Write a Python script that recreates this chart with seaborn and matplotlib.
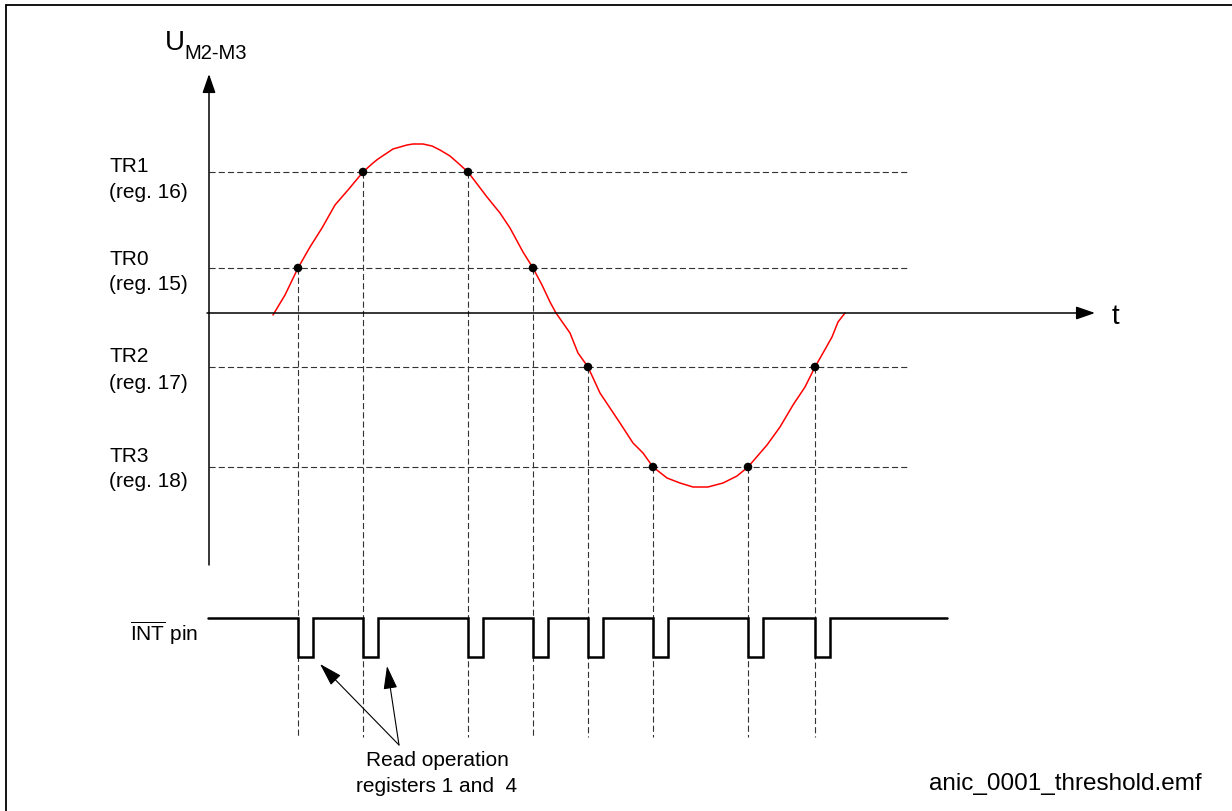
import numpy as np
import pandas as pd
import matplotlib
matplotlib.use("Agg")
import matplotlib.pyplot as plt
from matplotlib.transforms import Affine2D
import seaborn as sns

# ---- signal data (t and U in drawing units, origin at the axis crossing) ----
curve_t = [64, 76, 89, 101, 113, 126, 139, 154, 164, 169, 178, 184, 191, 198,
           204, 214, 223, 231, 241, 249, 259, 278, 291, 301, 314, 324, 333,
           341, 347, 361, 369, 379, 391, 401, 411, 424, 434, 444, 458, 471,
           484, 499, 514, 528, 539, 558, 571, 584, 596, 606, 614, 623, 629, 636]
curve_u = [-2, 18, 45, 66, 85, 108, 123, 141, 150, 154, 160, 164, 166, 168,
           169, 169, 167, 163, 157, 150, 141, 116, 100, 85, 61, 45, 28,
           11, 0, -20, -40, -54, -80, -95, -110, -130, -140, -154, -165, -170,
           -174, -174, -170, -163, -154, -132, -114, -92, -74, -54, -40, -24, -9, 0]

threshold_names = ["TR1", "TR0", "TR2", "TR3"]
threshold_regs = ["(reg. 16)", "(reg. 15)", "(reg. 17)", "(reg. 18)"]
threshold_u = [141, 45, -54, -154]

# crossing instants and the threshold each one hits
cross_t = [89, 154, 259, 324, 379, 444, 539, 606]
cross_level = ["TR0", "TR1", "TR1", "TR0", "TR2", "TR3", "TR3", "TR2"]

# INT pin: low pulse after each crossing
pulse_width = 15
int_high, int_low = -305, -344
int_start, int_end = -1, 738

W, H = 1232, 811
OX, OY = 209, 313          # axis origin in pixels

sns.set_theme(style="white")
plt.rcParams["font.family"] = ["Liberation Sans", "DejaVu Sans"]
plt.rcParams["text.color"] = "black"
plt.rcParams["mathtext.fontset"] = "custom"
plt.rcParams["mathtext.rm"] = "Liberation Sans"
plt.rcParams["mathtext.it"] = "Liberation Sans:italic"

fig = plt.figure(figsize=(W / 100, H / 100), dpi=100)
ax = fig.add_axes([0, 0, 1, 1])
ax.set_xlim(-OX, W - OX)
ax.set_ylim(OY - H, OY)
ax.axis("off")

# pixel transform (top-left origin) for layout items
px = Affine2D().scale(1 / W, -1 / H).translate(0, 1) + fig.transFigure

# outer frame (top and left edges)
ax.plot([6, W], [5, 5], color="black", lw=1.3, transform=px, clip_on=False)
ax.plot([6, 6], [5, H], color="black", lw=1.3, transform=px, clip_on=False)

level_of = dict(zip(threshold_names, threshold_u))
cross_u = [level_of[n] for n in cross_level]

dash_kw = dict(color="#333333", lw=0.8, dashes=(5.5, 2.8))

# threshold lines
for u in threshold_u:
    ax.plot([0, 698], [u, u], **dash_kw)

# drop lines from crossings down through the INT trace
for t, u in zip(cross_t, cross_u):
    ax.plot([t, t], [u, -424], **dash_kw)

# axes with arrow heads
arrow_kw = dict(arrowstyle="-|>,head_length=1.15,head_width=0.4",
                mutation_scale=10, lw=1.1, color="black",
                shrinkA=0, shrinkB=0)
ax.annotate("", xy=(0, 239), xytext=(0, -252), arrowprops=arrow_kw)
ax.annotate("", xy=(886, 0), xytext=(-2, 0), arrowprops=arrow_kw)

# signal
df = pd.DataFrame({"t": curve_t, "U": curve_u})
sns.lineplot(data=df, x="t", y="U", sort=False, estimator=None,
             color="red", lw=1.1, ax=ax, solid_joinstyle="round")
sns.scatterplot(x=cross_t, y=cross_u, s=38, color="black",
                edgecolor="none", ax=ax, zorder=5)

# INT pin trace
it = [int_start]
iu = [int_high]
for t in cross_t:
    it += [t, t, t + pulse_width, t + pulse_width]
    iu += [int_high, int_low, int_low, int_high]
it.append(int_end)
iu.append(int_high)
ax.plot(it, iu, color="black", lw=1.8, solid_joinstyle="miter")

# text
fs = 15
ax.text(165, 50, "U", fontsize=20, transform=px, va="baseline", ha="left")
ax.text(184, 59, "M2-M3", fontsize=14.5, transform=px, va="baseline", ha="left")
ax.text(1112, 324, "t", fontsize=20, transform=px, va="baseline", ha="left")

name_base = [172.5, 265, 362, 462]
reg_base = [198.5, 290, 389, 487]
for n, r, b1, b2 in zip(threshold_names, threshold_regs, name_base, reg_base):
    ax.text(110, b1, n, fontsize=fs, transform=px, va="baseline")
    ax.text(109, b2, r, fontsize=fs, transform=px, va="baseline")

ax.text(130, 641, r"$\overline{\mathrm{INT}}$ pin", fontsize=fs,
        transform=px, va="baseline")

ax.text(437, 766.5, "Read operation", fontsize=fs, transform=px,
        va="baseline", ha="center")
ax.text(437, 791.5, "registers 1 and  4", fontsize=fs, transform=px,
        va="baseline", ha="center")
ax.text(1202, 790, "anic_0001_threshold.emf", fontsize=17.5, transform=px,
        va="baseline", ha="right")

# pointers to the first two read pulses
ptr_kw = dict(arrowstyle="-|>,head_length=1.44,head_width=0.43",
              mutation_scale=10, lw=0.8, color="black",
              shrinkA=0, shrinkB=0)
ax.annotate("", xy=(320, 664), xytext=(399, 745), xycoords=px,
            textcoords=px, arrowprops=ptr_kw)
ax.annotate("", xy=(387, 666), xytext=(399, 745), xycoords=px,
            textcoords=px, arrowprops=ptr_kw)

fig.savefig("out.png", dpi=100, facecolor="white")
